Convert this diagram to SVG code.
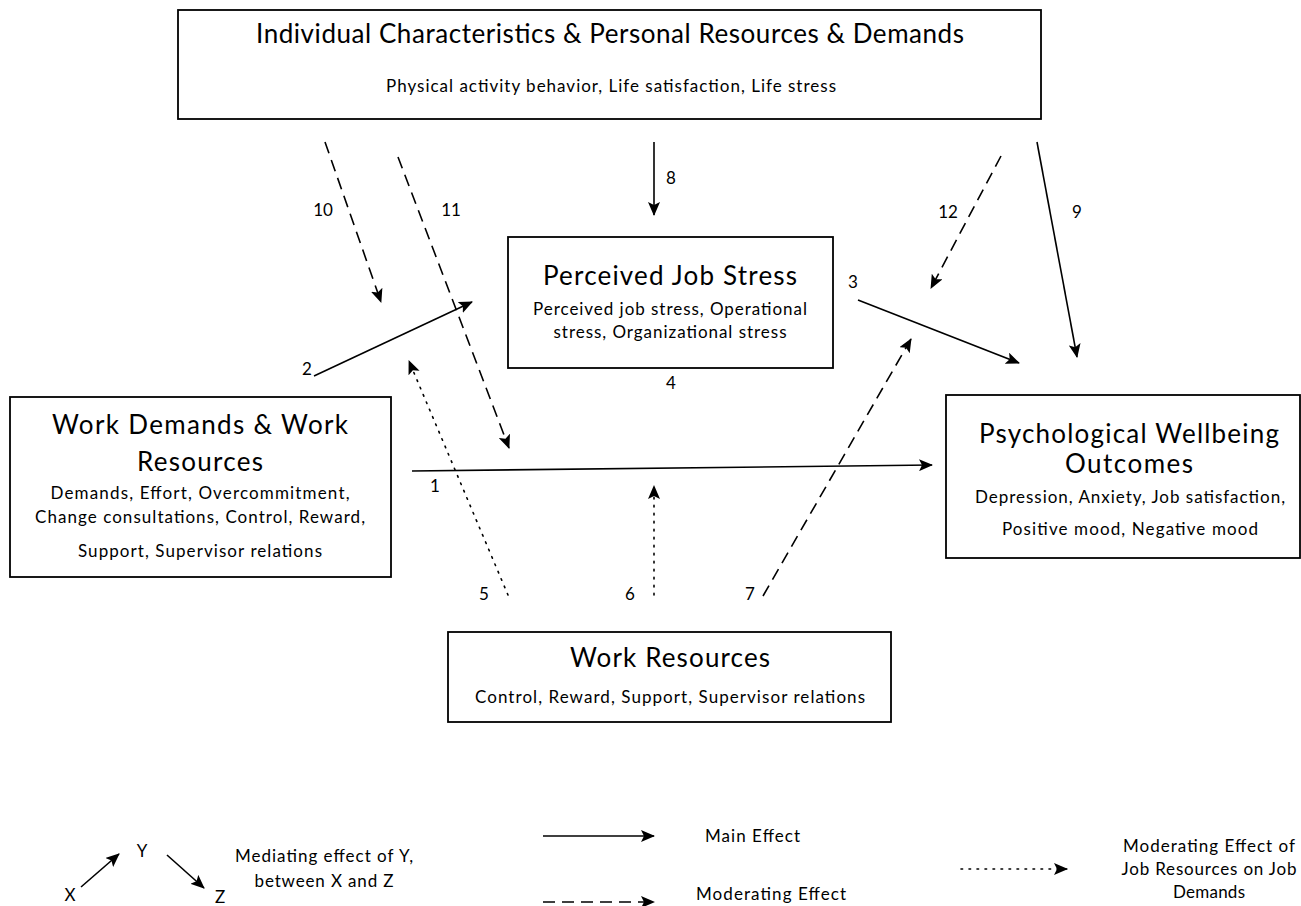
<svg xmlns="http://www.w3.org/2000/svg" width="1301" height="906" viewBox="0 0 1301 906">
<style>
.box{fill:#fff;stroke:#000;stroke-width:1.8}
text{font-family:Lato,"Open Sans","Liberation Sans",sans-serif;fill:#000}
.t{font-size:26px;text-anchor:middle}
.b{font-size:17px;text-anchor:middle}
.n{font-size:17px;text-anchor:middle}
.c{fill:none;stroke:#000;stroke-width:1.6}
.dash{stroke-dasharray:12 7}
.dot{stroke-dasharray:1.6 6.4;stroke-linecap:round}
</style>
<defs>
<marker id="ah" markerUnits="userSpaceOnUse" markerWidth="14" markerHeight="12" refX="13" refY="6" orient="auto">
<path d="M0,0 L14,6 L0,12 L3,6 z" fill="#000"/>
</marker>
</defs>
<rect width="1301" height="906" fill="#fff"/>

<g id="node-individual">
<rect class="box" x="178" y="10" width="863" height="109"/>
<text class="t" x="610" y="43" textLength="708">Individual Characteristics &amp; Personal Resources &amp; Demands</text>
<text class="b" x="611" y="92" textLength="450">Physical activity behavior, Life satisfaction, Life stress</text>
</g>

<g id="node-stress">
<rect class="box" x="508" y="237" width="325" height="131"/>
<text class="t" x="670" y="285" textLength="254">Perceived Job Stress</text>
<text class="b" x="670" y="315" textLength="274">Perceived job stress, Operational</text>
<text class="b" x="670" y="338" textLength="233">stress, Organizational stress</text>
</g>

<g id="node-workdemands">
<rect class="box" x="10" y="397" width="381" height="180"/>
<text class="t" x="200" y="434" textLength="296">Work Demands &amp; Work</text>
<text class="t" x="200" y="471" textLength="126">Resources</text>
<text class="b" x="200" y="499" textLength="299">Demands, Effort, Overcommitment,</text>
<text class="b" x="200" y="523" textLength="330">Change consultations, Control, Reward,</text>
<text class="b" x="200" y="557" textLength="244">Support, Supervisor relations</text>
</g>

<g id="node-wellbeing">
<rect class="box" x="946" y="395" width="354" height="163"/>
<text class="t" x="1129" y="443" textLength="300">Psychological Wellbeing</text>
<text class="t" x="1129" y="473" textLength="128">Outcomes</text>
<text class="b" x="1130" y="503" textLength="310">Depression, Anxiety, Job satisfaction,</text>
<text class="b" x="1130" y="535" textLength="256">Positive mood, Negative mood</text>
</g>

<g id="node-workresources">
<rect class="box" x="448" y="632" width="443" height="90"/>
<text class="t" x="670" y="667" textLength="200">Work Resources</text>
<text class="b" x="670" y="703" textLength="390">Control, Reward, Support, Supervisor relations</text>
</g>

<g id="connectors">
<line class="c" x1="412" y1="471" x2="932" y2="465" marker-end="url(#ah)"/>
<line class="c" x1="314" y1="376" x2="472" y2="302" marker-end="url(#ah)"/>
<line class="c" x1="858" y1="300" x2="1019" y2="363" marker-end="url(#ah)"/>
<line class="c" x1="654" y1="142" x2="654" y2="215" marker-end="url(#ah)"/>
<line class="c" x1="1037" y1="142" x2="1077" y2="357" marker-end="url(#ah)"/>
<line class="c dash" x1="1001" y1="156" x2="931" y2="288" marker-end="url(#ah)"/>
<line class="c dash" x1="325" y1="142" x2="381" y2="302" marker-end="url(#ah)"/>
<line class="c dash" x1="398" y1="157" x2="509" y2="448" marker-end="url(#ah)"/>
<line class="c dot" x1="508" y1="595" x2="409" y2="361" marker-end="url(#ah)"/>
<line class="c dot" x1="654" y1="595" x2="654" y2="486" marker-end="url(#ah)"/>
<line class="c dash" x1="763" y1="596" x2="911" y2="339" marker-end="url(#ah)"/>
</g>

<g id="labels">
<text class="n" x="435" y="492">1</text>
<text class="n" x="307" y="375">2</text>
<text class="n" x="853" y="288">3</text>
<text class="n" x="671" y="389">4</text>
<text class="n" x="484" y="600">5</text>
<text class="n" x="630" y="600">6</text>
<text class="n" x="750" y="600">7</text>
<text class="n" x="671" y="184">8</text>
<text class="n" x="1077" y="218">9</text>
<text class="n" x="323" y="216">10</text>
<text class="n" x="451" y="216">11</text>
<text class="n" x="948" y="218">12</text>
</g>

<g id="legend">
<text class="n" x="70" y="901">X</text>
<line class="c" x1="81" y1="887" x2="119" y2="854" marker-end="url(#ah)"/>
<text class="n" x="142" y="857">Y</text>
<line class="c" x1="167" y1="855" x2="204" y2="888" marker-end="url(#ah)"/>
<text class="n" x="220" y="903">Z</text>
<text class="b" x="324" y="862" textLength="178">Mediating effect of Y,</text>
<text class="b" x="324" y="887" textLength="139">between X and Z</text>

<line class="c" x1="543" y1="836" x2="654" y2="836" marker-end="url(#ah)"/>
<text class="b" x="705" y="842" style="text-anchor:start" textLength="95">Main Effect</text>
<line class="c dash" x1="543" y1="902" x2="654" y2="902" marker-end="url(#ah)"/>
<text class="b" x="696" y="900" style="text-anchor:start" textLength="150">Moderating Effect</text>

<line class="c dot" x1="961" y1="869" x2="1067" y2="869" marker-end="url(#ah)"/>
<text class="b" x="1209" y="852" textLength="172">Moderating Effect of</text>
<text class="b" x="1209" y="875" textLength="175">Job Resources on Job</text>
<text class="b" x="1209" y="898" textLength="72">Demands</text>
</g>
</svg>
